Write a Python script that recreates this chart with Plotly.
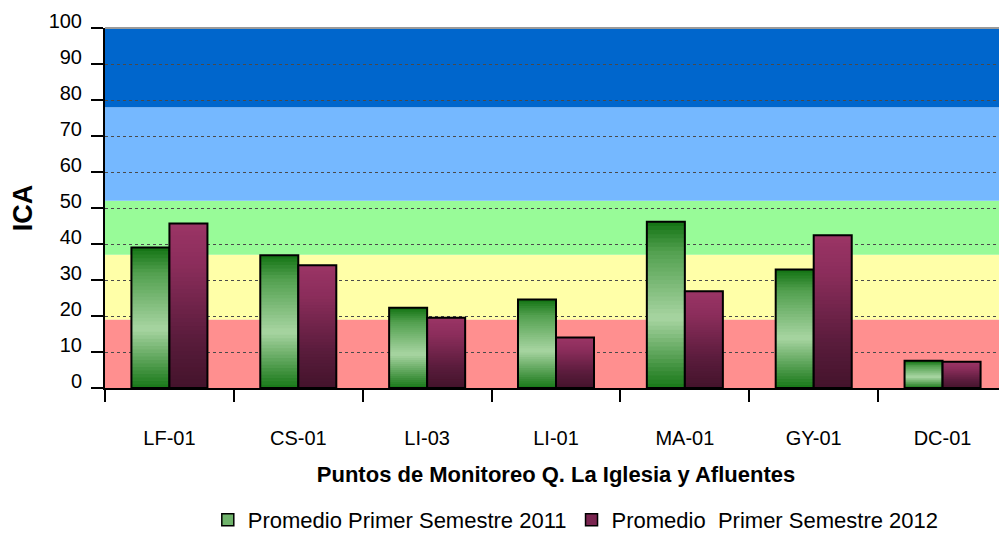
import plotly.graph_objects as go

# ---------------- data ----------------
categories = ["LF-01", "CS-01", "LI-03", "LI-01", "MA-01", "GY-01", "DC-01"]
ica_2011 = [39.0, 36.9, 22.3, 24.6, 46.2, 32.9, 7.6]
ica_2012 = [45.7, 34.1, 19.5, 14.0, 26.9, 42.4, 7.3]
series_names = ["Promedio Primer Semestre 2011", "Promedio  Primer Semestre 2012"]
band_limits = [0, 19, 37, 52, 78, 100]
band_colors = ["#FF8F8F", "#FFFFA8", "#98FB98", "#75B8FF", "#0066CC"]
y_ticks = list(range(0, 101, 10))

# gradient stops (fraction from bar bottom -> colour)
green_stops = [(0.0, "#187818"), (0.12, "#3f913d"), (0.42, "#a8d5a2"), (0.82, "#52a04f"), (1.0, "#127212")]
purple_stops = [(0.0, "#43132b"), (0.3, "#5a1c3c"), (0.75, "#8b2d5b"), (1.0, "#9b3566")]

FONT = "Liberation Sans, Arial, sans-serif"
N_SEG = 40


def hex2rgb(h):
    h = h.lstrip("#")
    return [int(h[i:i + 2], 16) for i in (0, 2, 4)]


def grad(stops, t):
    for (t0, c0), (t1, c1) in zip(stops[:-1], stops[1:]):
        if t <= t1:
            f = 0 if t1 == t0 else (t - t0) / (t1 - t0)
            a, b = hex2rgb(c0), hex2rgb(c1)
            return "rgb(%d,%d,%d)" % tuple(round(a[i] + (b[i] - a[i]) * f) for i in range(3))
    return stops[-1][1]


fig = go.Figure()

series = [(ica_2011, green_stops, "a", "#6fb36b"), (ica_2012, purple_stops, "b", "#7a2550")]

# legend-only entries (no drawn bar); keep the double space visible
for (vals, stops, grp, legcol), name in zip(series, series_names):
    fig.add_trace(go.Bar(x=categories[:1], y=[None], name=name.replace("  ", "\u00a0\u00a0"),
                         offsetgroup=grp,
                         marker=dict(color=legcol, line=dict(color="black", width=1.5)),
                         hoverinfo="skip"))

for vals, stops, grp, legcol in series:
    for k in range(N_SEG):
        t = (k + 0.5) / N_SEG
        bases = [v * k / N_SEG for v in vals]
        heights = [min(v * (k + 1.6) / N_SEG, v) - v * k / N_SEG for v in vals]
        fig.add_trace(go.Bar(x=categories, y=heights, base=bases, offsetgroup=grp,
                             marker=dict(color=grad(stops, t), line=dict(width=0)),
                             showlegend=False, hoverinfo="skip"))
    fig.add_trace(go.Bar(x=categories, y=vals, offsetgroup=grp, showlegend=False,
                         marker=dict(color="rgba(0,0,0,0)", line=dict(color="black", width=2))))

shapes = []
for lo, hi, col in zip(band_limits[:-1], band_limits[1:], band_colors):
    shapes.append(dict(type="rect", xref="paper", yref="y", x0=0, x1=1, y0=lo, y1=hi,
                       fillcolor=col, line=dict(width=0), layer="below"))
shapes.append(dict(type="line", xref="paper", yref="paper", x0=0, x1=1, y0=1, y1=1,
                   line=dict(color="#9a9a9a", width=2), layer="above"))

fig.update_layout(
    width=999, height=535,
    margin=dict(l=97, r=0, t=20, b=155),
    paper_bgcolor="white", plot_bgcolor="white",
    font=dict(family=FONT, color="black"),
    barmode="group", bargap=0.41, bargroupgap=0,
    shapes=shapes,
    showlegend=True,
    legend=dict(orientation="h", xref="container", x=0.2, xanchor="left",
                yref="container", y=0.043, yanchor="middle",
                font=dict(size=22, family=FONT), itemwidth=30, traceorder="normal"),
    xaxis=dict(type="category", categoryorder="array", categoryarray=categories,
               range=[-0.5, len(categories) - 0.5],
               tickson="boundaries", ticks="outside", ticklen=12, tickwidth=1.5, tickcolor="black",
               showline=True, linecolor="black", linewidth=2, showgrid=False,
               tickfont=dict(size=20), ticklabelstandoff=31,
               title=dict(text="<b>Puntos de Monitoreo Q. La Iglesia y Afluentes</b>",
                          font=dict(size=22), standoff=19)),
    yaxis=dict(range=[0, 100], tickvals=y_ticks, ticks="outside", ticklen=12, tickwidth=1.5,
               tickcolor="black", showline=True, linecolor="black", linewidth=2,
               showgrid=True, gridcolor="#4a4a4a", griddash="dot", gridwidth=1, zeroline=False,
               tickfont=dict(size=20), ticklabelshift=-7, ticklabelstandoff=5,
               title=dict(text="<b>ICA</b>", font=dict(size=27), standoff=12)),
)

fig.write_html("out.html")
